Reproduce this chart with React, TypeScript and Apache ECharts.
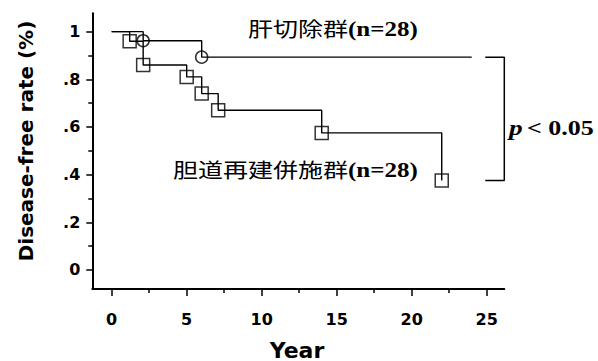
import React, { useEffect, useRef } from 'react';
import * as echarts from 'echarts';

// ---- data ----
const circleTimes = [2.1, 6.0];
const circleSurv = [0.962, 0.893];
const circleFollowUp = 24;
const squareTimes = [1.2, 2.1, 5.0, 6.0, 7.1, 14.0, 22.0];
const squareSurv = [0.96, 0.86, 0.81, 0.74, 0.67, 0.575, 0.375];
const xTicks = [0, 5, 10, 15, 20, 25];
const xMinorTicks = [2.5, 7.5, 12.5, 17.5, 22.5];
const yTicks = [0, 0.2, 0.4, 0.6, 0.8, 1];
const yMinorTicks = [0.1, 0.3, 0.5, 0.7, 0.9];
const circleGroup = '肝切除群';
const squareGroup = '胆道再建併施群';
const nText = '(n=28)';
const pText = '< 0.05';
const xTitle = 'Year';
const yTitle = 'Disease-free rate (%)';

const X_MIN = -1.29;
const X_MAX = 26.17;
const Y_MIN = -0.08;
const Y_MAX = 1.077;

function stepData(times: number[], surv: number[], tail?: number) {
  const d: number[][] = [[0, 1]];
  times.forEach((t, i) => d.push([t, surv[i]]));
  if (tail !== undefined) d.push([tail, surv[surv.length - 1]]);
  return d;
}

const fmtY = (v: number) => {
  if (v === 0) return '0';
  if (v === 1) return '1';
  return String(Math.round(v * 10) / 10).replace(/^0/, '');
};

export default function App() {
  const ref = useRef<HTMLDivElement>(null);
  useEffect(() => {
    if (!ref.current) return;
    const chart = echarts.init(ref.current, undefined, { renderer: 'svg' });
    const tickFont = { fontFamily: 'DejaVu Sans', fontWeight: 'bold' as const, fontSize: 16, color: '#000' };
    const baseAxis = {
      type: 'value' as const,
      splitLine: { show: false },
    };
    const circleEnd = circleSurv[circleSurv.length - 1];
    const squareEnd = squareSurv[squareSurv.length - 1];
    const annoStyle = (text: string) => ({
      text,
      verticalAlign: 'middle',
      align: 'left',
      rich: {
        c: { fontFamily: 'Noto Sans CJK JP', fontSize: 20, fill: '#000', color: '#000' },
        n: { fontFamily: 'Liberation Serif', fontWeight: 'bold', fontSize: 20, fill: '#000', color: '#000' },
        i: { fontFamily: 'Liberation Serif', fontWeight: 'bold', fontStyle: 'italic', fontSize: 21, fill: '#000', color: '#000' },
      },
    });
    chart.setOption({
      animation: false,
      backgroundColor: '#fff',
      grid: { left: 92.3, right: 598 - 504.3, top: 13.3, bottom: 361 - 289, containLabel: false },
      xAxis: [
        {
          ...baseAxis,
          min: X_MIN,
          max: X_MAX,
          axisLine: { show: true, onZero: false, lineStyle: { color: '#000', width: 2 } },
          axisTick: { show: true, customValues: xTicks, length: 7, lineStyle: { color: '#000', width: 1.5 } },
          axisLabel: { show: true, customValues: xTicks, margin: 22, ...tickFont },
        },
        {
          ...baseAxis,
          min: X_MIN,
          max: X_MAX,
          position: 'bottom',
          axisLine: { show: false, onZero: false },
          axisTick: { show: true, customValues: xMinorTicks, length: 4, lineStyle: { color: '#000', width: 1.5 } },
          axisLabel: { show: false },
        },
      ],
      yAxis: [
        {
          ...baseAxis,
          min: Y_MIN,
          max: Y_MAX,
          axisLine: { show: true, onZero: false, lineStyle: { color: '#000', width: 2 } },
          axisTick: { show: true, customValues: yTicks, length: 6, lineStyle: { color: '#000', width: 1.5 } },
          axisLabel: { show: true, customValues: yTicks, margin: 12, formatter: fmtY, ...tickFont },
        },
        {
          ...baseAxis,
          min: Y_MIN,
          max: Y_MAX,
          position: 'left',
          axisLine: { show: false, onZero: false },
          axisTick: { show: true, customValues: yMinorTicks, length: 4, lineStyle: { color: '#000', width: 1.5 } },
          axisLabel: { show: false },
        },
      ],
      series: [
        {
          type: 'line',
          step: 'end',
          data: stepData(circleTimes, circleSurv, circleFollowUp),
          showSymbol: false,
          symbol: 'none',
          lineStyle: { color: '#000', width: 1.4 },
          z: 2,
        },
        {
          type: 'line',
          step: 'end',
          data: stepData(squareTimes, squareSurv),
          showSymbol: false,
          symbol: 'none',
          lineStyle: { color: '#000', width: 1.4 },
          z: 2,
        },
        {
          type: 'scatter',
          data: circleTimes.map((t, i) => [t, circleSurv[i]]),
          symbol: 'circle',
          symbolSize: 12,
          itemStyle: { color: 'rgba(255,255,255,0)', borderColor: '#000', borderWidth: 1.5 },
          z: 3,
        },
        {
          type: 'scatter',
          data: squareTimes.map((t, i) => [t, squareSurv[i]]),
          symbol: 'rect',
          symbolSize: 13,
          itemStyle: { color: 'rgba(255,255,255,0)', borderColor: '#000', borderWidth: 1.5 },
          z: 3,
        },
        {
          type: 'line',
          clip: false,
          data: [
            [24.9, circleEnd],
            [X_MAX, circleEnd],
            [X_MAX, squareEnd],
            [24.9, squareEnd],
          ],
          showSymbol: false,
          symbol: 'none',
          lineStyle: { color: '#000', width: 1.5 },
          z: 2,
        },
      ],
      graphic: [
        {
          type: 'text',
          x: 248,
          y: 29,
          scaleX: 1.25,
          style: annoStyle(`{c|${circleGroup}}{n|${nText}}`),
        },
        {
          type: 'text',
          x: 173,
          y: 170,
          scaleX: 1.25,
          style: annoStyle(`{c|${squareGroup}}{n|${nText}}`),
        },
        {
          type: 'text',
          x: 509,
          y: 128,
          scaleX: 1.3,
          style: annoStyle(`{i|p} {n|${pText}}`),
        },
        {
          type: 'text',
          x: 26,
          y: 141,
          rotation: Math.PI / 2,
          style: {
            text: yTitle,
            align: 'center',
            verticalAlign: 'middle',
            fontFamily: 'DejaVu Sans',
            fontWeight: 'bold',
            fontSize: 20,
            fill: '#000',
          },
        },
        {
          type: 'text',
          x: 297,
          y: 350,
          style: {
            text: xTitle,
            align: 'center',
            verticalAlign: 'middle',
            fontFamily: 'DejaVu Sans',
            fontWeight: 'bold',
            fontSize: 22,
            fill: '#000',
          },
        },
      ],
    });
    return () => chart.dispose();
  }, []);
  return (
    <div
      ref={ref}
      style={{ position: 'fixed', left: 0, top: 0, width: 598, height: 361, background: '#fff' }}
    />
  );
}
